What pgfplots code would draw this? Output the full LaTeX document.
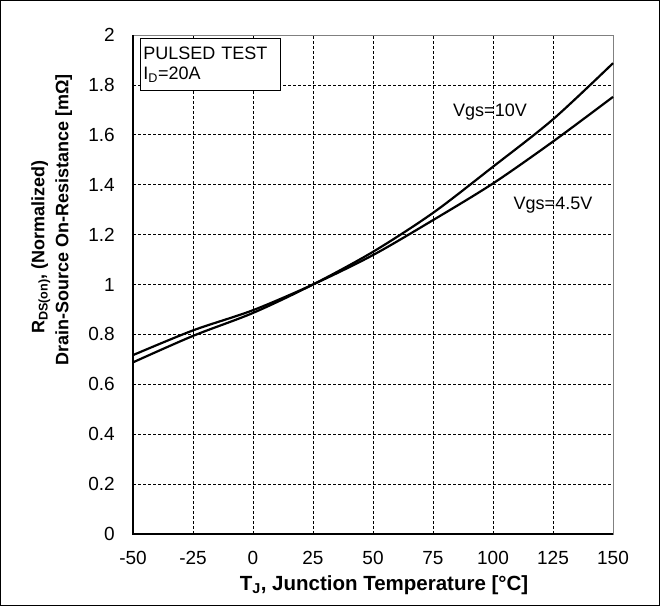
\documentclass[border=0pt]{standalone}
\usepackage{fontspec}
\setmainfont{Liberation Sans}
\usepackage{pgfplots}
\pgfplotsset{compat=1.18}
\begin{document}
\begin{tikzpicture}[x=1bp,y=1bp]
\useasboundingbox (-133bp,-72bp) rectangle (527bp,534bp);
\draw[line width=1.5bp] (-132.25bp,-71.25bp) rectangle (526.25bp,533.25bp);
\begin{axis}[
  at={(0,0)}, anchor=south west,
  scale only axis, width=480bp, height=499bp,
  xmin=-50, xmax=150, ymin=0, ymax=2,
  xtick={-50,-25,0,25,50,75,100,125,150},
  xticklabels={-50,-25,0,25,50,75,100,125,150},
  ytick={0,0.2,0.4,0.6,0.8,1,1.2,1.4,1.6,1.8,2},
  yticklabels={0,0.2,0.4,0.6,0.8,1,1.2,1.4,1.6,1.8,2},
  major tick length=0pt,
  /pgf/number format/assume math mode=true,
  grid=major,
  major grid style={black, line width=0.7bp, dash pattern=on 3bp off 2bp},
  axis line style={draw=gray, line width=0.8bp},
  xticklabel style={font=\fontsize{19bp}{21bp}\selectfont, anchor=base, inner sep=0pt, yshift=-30bp},
  yticklabel style={font=\fontsize{19bp}{21bp}\selectfont, anchor=east, inner sep=0pt, xshift=-18bp},
  xlabel={\textbf{T\textsubscript{J}, Junction Temperature [°C]}},
  xlabel style={font=\fontsize{20.5bp}{23bp}\selectfont, at={(axis description cs:0.523,0)}, anchor=base, inner sep=0pt, yshift=-56bp},
  clip=false,
]
\addplot[black, line width=2.2bp, smooth] coordinates {
  (-50,0.688) (-25,0.794) (0,0.886) (25,1.0) (50,1.131) (75,1.287) (100,1.472) (125,1.662) (150,1.887)};
\addplot[black, line width=2.2bp, smooth] coordinates {
  (-50,0.717) (-25,0.816) (0,0.897) (25,1.0) (50,1.118) (75,1.258) (100,1.405) (125,1.573) (150,1.752)};
\draw[black, line width=1.6bp] (rel axis cs:0,1) -- (rel axis cs:0,0) -- (rel axis cs:1,0);
\node[font=\fontsize{18bp}{20bp}\selectfont, inner sep=0pt] at (axis cs:98.75,1.693) {Vgs=10V};
\node[font=\fontsize{18bp}{20bp}\selectfont, inner sep=0pt] at (axis cs:125,1.319) {Vgs=4.5V};
\node[draw, line width=1bp, fill=white, anchor=north west, align=left,
      text width=134bp, minimum height=52bp, inner xsep=3bp, inner ysep=2bp,
      font=\fontsize{18bp}{20bp}\selectfont] at (axis cs:-47.1,1.988)
      {PULSED TEST\\I\textsubscript{D}=20A};
\coordinate (L1) at (rel axis cs:0,0);
\end{axis}
\node[rotate=90, anchor=base, inner sep=0pt, font=\fontsize{18bp}{20bp}\selectfont\bfseries]
  at (-88.5bp,287bp) {R\textsubscript{DS(on)}, (Normalized)};
\node[rotate=90, anchor=base, inner sep=0pt, font=\fontsize{18bp}{20bp}\selectfont\bfseries]
  at (-64.5bp,314bp) {Drain-Source On-Resistance [mΩ]};
\end{tikzpicture}
\end{document}
